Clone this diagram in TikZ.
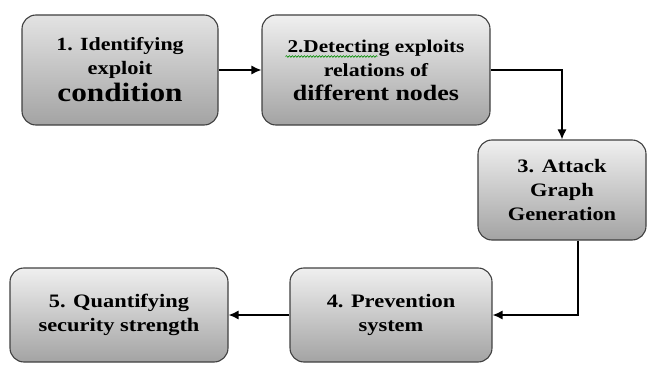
\documentclass[tikz,border=0pt]{standalone}
\usepackage{fontspec}
\setmainfont{Liberation Serif}[FakeStretch=1.18]
\usetikzlibrary{arrows.meta, decorations.pathmorphing}

\begin{document}
\begin{tikzpicture}[x=1pt, y=1pt, line width=1.2pt,
  stagebox/.style={draw=black!75, line width=1.1pt, rounded corners=14pt,
    top color=gray!12, bottom color=gray!72, align=center, inner sep=0pt,
    font=\bfseries\fontsize{19}{24}\selectfont},
  flow/.style={-{Latex[length=10pt,width=9pt]}, line width=1.3pt}]

\useasboundingbox (0,0) rectangle (648,365);

% Stage boxes, placed at their centres
\node[stagebox, minimum width=196, minimum height=110, top color=gray!22] (b1) at (120,295)
  {\fontsize{18.6}{24}\selectfont 1. Identifying\\exploit\\[3pt]{\fontsize{26.5}{28}\selectfont condition}};
\node[stagebox, minimum width=228, minimum height=110] (b2) at (376,295)
  {\fontsize{18}{27}\selectfont 2.Detecting exploits\\
   {\fontsize{18.5}{27}\selectfont relations of}\\
   {\fontsize{22}{28}\selectfont different nodes}};
\node[stagebox, minimum width=168, minimum height=100] (b3) at (562,175)
  {3. Attack\\Graph\\Generation};
\node[stagebox, minimum width=202, minimum height=94] (b4) at (391,50)
  {4. Prevention\\system};
\node[stagebox, minimum width=218, minimum height=94] (b5) at (119,50)
  {5. Quantifying\\security strength};

% Wavy spelling mark under the first words of box 2
\draw[green!55!black, line width=0.6pt, decorate,
  decoration={snake, amplitude=0.8pt, segment length=3pt}]
  ([xshift=24,yshift=-42]b2.north west) -- ++(92,0);

% Connectors between the stages
\draw[flow] (b1.east) -- (b2.west);
\draw[flow] (b2.east) -| (b3.north);
\draw[flow] ([xshift=16]b3.south) |- (b4.east);
\draw[flow] (b4.west) -- (b5.east);

\end{tikzpicture}
\end{document}
